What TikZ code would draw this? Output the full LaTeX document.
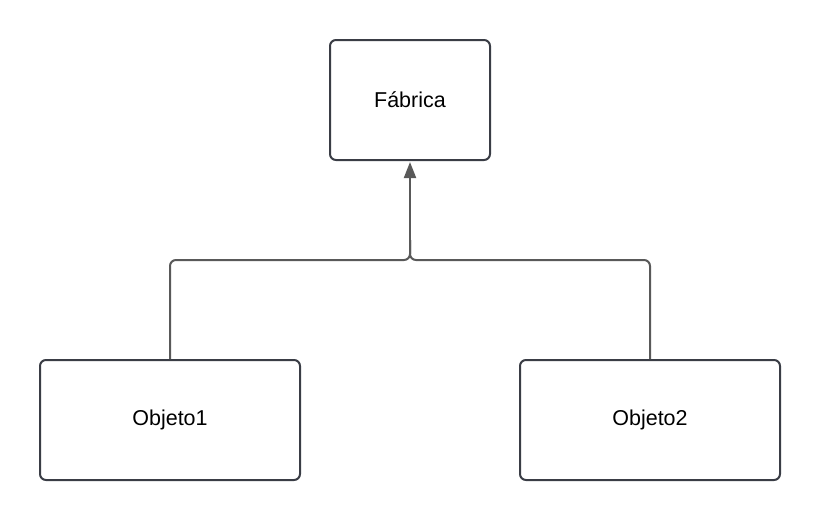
\documentclass[tikz,border=0pt]{standalone}
\usepackage{fontspec}
\setmainfont{Liberation Sans}
\usetikzlibrary{arrows.meta}
\definecolor{boxline}{HTML}{3A3D45}
\definecolor{conn}{HTML}{595959}
\begin{document}
\begin{tikzpicture}[x=1pt,y=-1pt,
  box/.style={draw=boxline,line width=2pt,rounded corners=6pt,fill=white,
    minimum width=#1,minimum height=120pt,inner sep=0pt,
    font=\fontsize{21.5}{25}\selectfont},
  link/.style={draw=conn,line width=2pt,rounded corners=6pt}]
\useasboundingbox (0,0) rectangle (820,520);
\node[box=160pt] (fab) at (410,100) {Fábrica};
\node[box=260pt] (o1) at (170,420) {Objeto1};
\node[box=260pt] (o2) at (650,420) {Objeto2};
\coordinate (j) at (410,260);
\coordinate (up) at (410,240);
\draw[link] (o1.north) |- (j) -- (up);
\draw[link] (o2.north) |- (j) -- (up);
\draw[draw=conn,line width=2pt,-{Triangle[length=16pt,width=12pt]}] (up) -- ([yshift=-1pt]fab.south);
\end{tikzpicture}
\end{document}
